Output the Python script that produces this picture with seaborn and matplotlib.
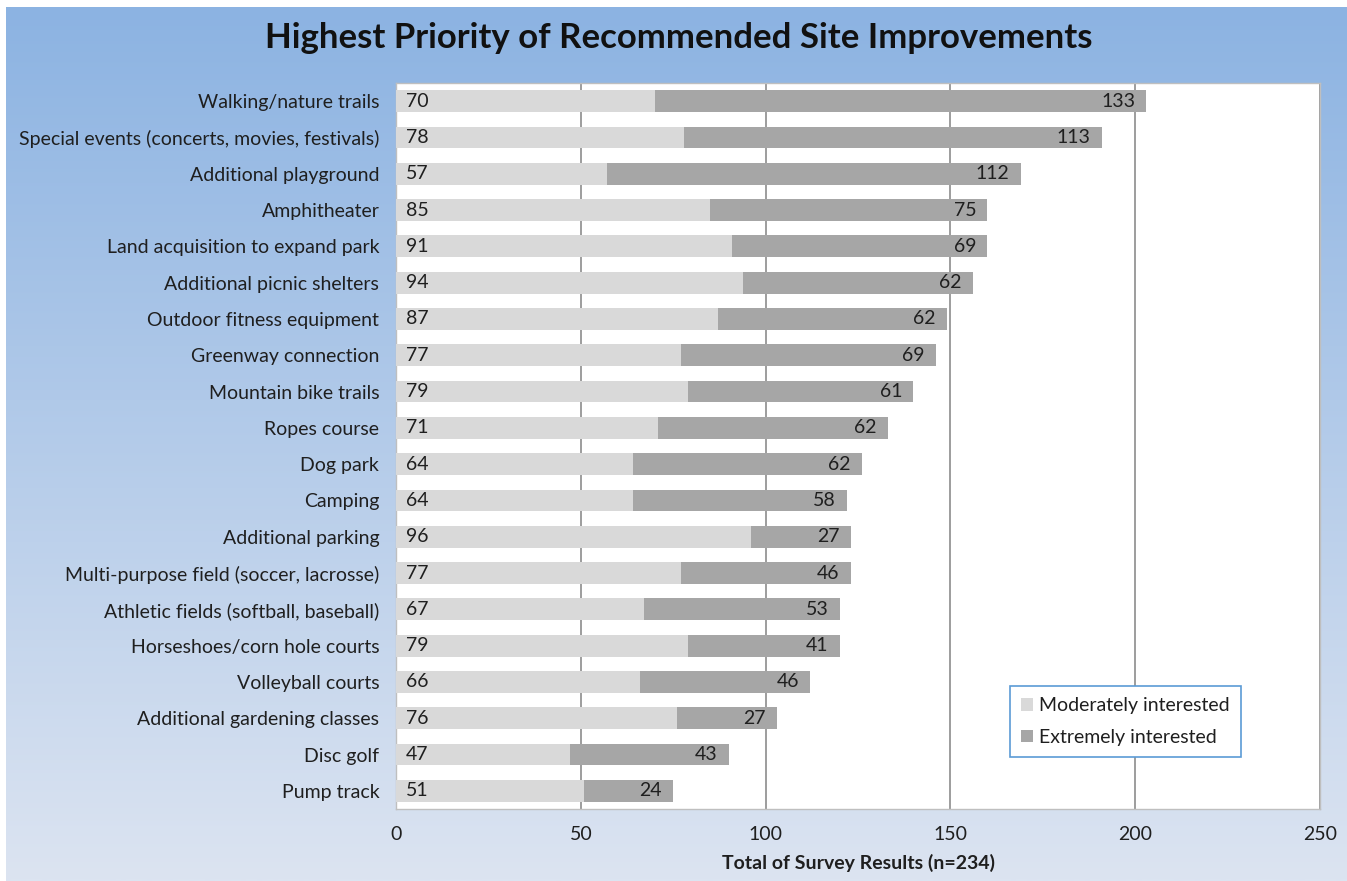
import numpy as np
import pandas as pd
import seaborn as sns
import matplotlib.pyplot as plt
from matplotlib.patches import Patch

categories = ["Walking/nature trails",
              "Special events (concerts, movies, festivals)",
              "Additional playground",
              "Amphitheater",
              "Land acquisition to expand park",
              "Additional picnic shelters",
              "Outdoor fitness equipment",
              "Greenway connection",
              "Mountain bike trails",
              "Ropes course",
              "Dog park",
              "Camping",
              "Additional parking",
              "Multi-purpose field (soccer, lacrosse)",
              "Athletic fields (softball, baseball)",
              "Horseshoes/corn hole courts",
              "Volleyball courts",
              "Additional gardening classes",
              "Disc golf",
              "Pump track"]
moderately = [70, 78, 57, 85, 91, 94, 87, 77, 79, 71, 64, 64, 96, 77, 67, 79, 66, 76, 47, 51]
extremely = [133, 113, 112, 75, 69, 62, 62, 69, 61, 62, 62, 58, 27, 46, 53, 41, 46, 27, 43, 24]
xticks = [0, 50, 100, 150, 200, 250]

df = pd.DataFrame({"item": categories, "mod": moderately, "ext": extremely})
df["total"] = df["mod"] + df["ext"]

sns.set_style("white")
plt.rcParams['font.family'] = ['Lato', 'DejaVu Sans']
txt = '#1f1f1f'
light, dark = '#d9d9d9', '#a6a6a6'

W, H = 1347, 881
fig = plt.figure(figsize=(W / 100, H / 100), dpi=100)
fig.patch.set_facecolor('white')

# gradient background (white strip on top and left like the source)
bg = fig.add_axes([6 / W, 0, 1 - 6 / W, 1 - 7 / H], zorder=-10)
top_c = np.array([0x8c, 0xb3, 0xe2]) / 255
bot_c = np.array([0xdc, 0xe4, 0xf1]) / 255
t = np.linspace(0, 1, 256)[:, None]
grad = (top_c * (1 - t) + bot_c * t)[:, None, :]
bg.imshow(grad, aspect='auto', extent=[0, 1, 0, 1], interpolation='bilinear')
bg.set_axis_off()

ax = fig.add_axes([396 / W, 1 - 809 / H, 924 / W, 726 / H], zorder=1)
ax.set_facecolor('white')

sns.barplot(data=df, x="total", y="item", color=dark, width=0.6, linewidth=0,
            saturation=1, orient='h', ax=ax, zorder=3)
sns.barplot(data=df, x="mod", y="item", color=light, width=0.6, linewidth=0,
            saturation=1, orient='h', ax=ax, zorder=4)

for i, row in df.iterrows():
    ax.annotate(str(row["mod"]), (0, i), xytext=(7, 0), textcoords='offset points',
                ha='left', va='center', fontsize=14, color=txt, zorder=5)
    ax.annotate(str(row["ext"]), (row["total"], i), xytext=(-8, 0), textcoords='offset points',
                ha='right', va='center', fontsize=14, color=txt, zorder=5)

ax.set_xlim(0, 250)
ax.set_xticks(xticks)
ax.set_ylim(len(categories) - 0.5, -0.5)
ax.grid(axis='x', color='#8c8c8c', linewidth=1.2, zorder=1)
ax.set_axisbelow(True)
for s in ax.spines.values():
    s.set_color('#bfbfbf')
    s.set_linewidth(1)
ax.tick_params(axis='both', length=0, labelsize=14, labelcolor=txt)
ax.tick_params(axis='x', pad=12)
ax.tick_params(axis='y', pad=12)
ax.set_ylabel('')
ax.set_xlabel('Total of Survey Results (n=234)', fontsize=14, fontweight='bold',
              color=txt, labelpad=8)

fig.text(0.504, 1 - 38 / H, 'Highest Priority of Recommended Site Improvements',
         ha='center', va='center', fontsize=25, fontweight='bold', color='#111111')

handles = [Patch(facecolor=light, edgecolor='none', label='Moderately interested'),
           Patch(facecolor=dark, edgecolor='none', label='Extremely interested')]
leg = ax.legend(handles=handles, loc='lower left', bbox_to_anchor=(0.664, 0.071),
                frameon=True, fancybox=False, fontsize=14, handlelength=0.6,
                handleheight=0.6, handletextpad=0.3, labelspacing=0.75,
                borderpad=0.6, borderaxespad=0)
leg.get_frame().set_edgecolor('#5b9bd5')
leg.get_frame().set_linewidth(1.2)
leg.get_frame().set_alpha(1)
for t_ in leg.get_texts():
    t_.set_color(txt)

fig.savefig('out.png', dpi=100)
